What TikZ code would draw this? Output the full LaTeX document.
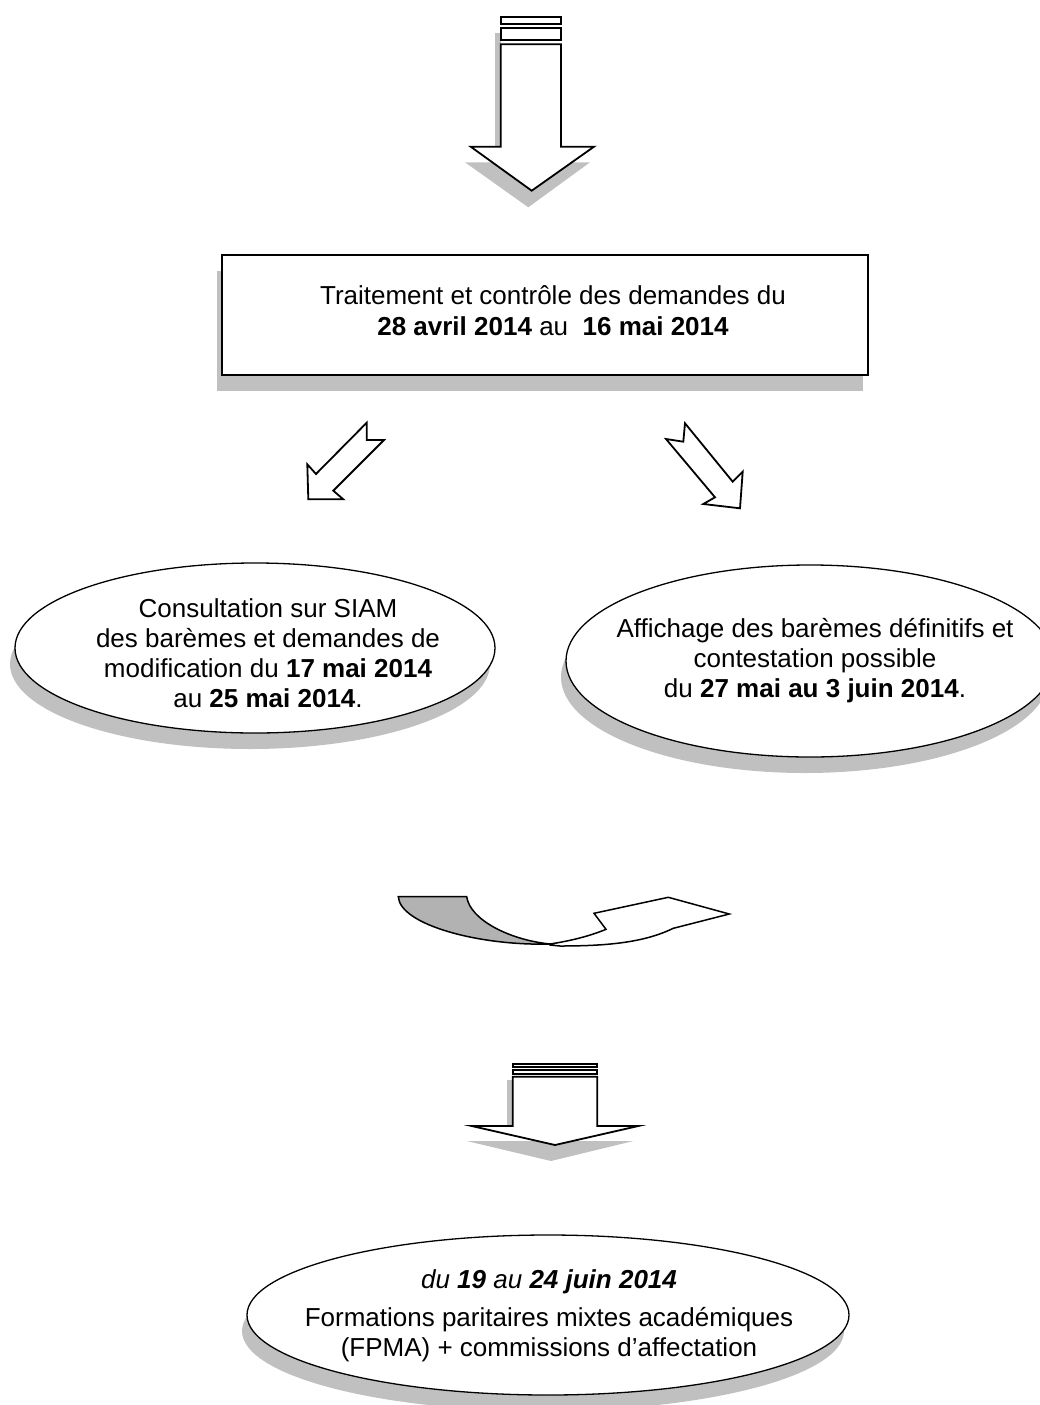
\documentclass[tikz,border=0pt]{standalone}
\usepackage{fontspec}
\setmainfont{Liberation Sans}
\usetikzlibrary{shapes.geometric}
\definecolor{shadowgrey}{RGB}{192,192,192}
\definecolor{curlgrey}{RGB}{178,178,178}
\tikzset{
  shadowfill/.style={fill=shadowgrey, draw=none},
  blockarrow/.style={draw=black, fill=white, line width=1.8pt, line join=miter},
  bubble/.style={ellipse, draw=black, fill=white, line width=1.3pt, inner sep=0pt},
  txt/.style={align=center, inner sep=0pt, font=\fontsize{26}{30}\selectfont},
}
\begin{document}
\begin{tikzpicture}[x=1pt,y=-1pt]
\useasboundingbox (0,0) rectangle (1040,1405);

% ---------- top arrow ----------
\fill[shadowfill] (494.5,33) rectangle (501,146.7);
\fill[shadowfill] (465,162.3) -- (590,162.3) -- (528.3,207.3) -- cycle;
\draw[blockarrow] (500.7,17.3) rectangle (561,24);
\draw[blockarrow] (500.7,28.3) rectangle (561,40);
\draw[blockarrow] (500.7,44.3) -- (561,44.3) -- (561,146.7) -- (594,146.7)
  -- (531.7,190.7) -- (470.7,146.7) -- (500.7,146.7) -- cycle;

% ---------- box ----------
\fill[shadowfill] (217,271) rectangle (863,391);
\node[draw=black, fill=white, line width=1.6pt, minimum width=646pt,
  minimum height=120pt, inner sep=0pt] (box) at (545,315) {};
\node[txt, font=\fontsize{26}{31}\selectfont] (boxtext) at (553,311)
  {Traitement et contrôle des demandes du\\
   \textbf{28 avril 2014} au \ \textbf{16 mai 2014}};

% ---------- diagonal arrows ----------
\draw[blockarrow] (366.7,422.7) -- (366.7,440) -- (384,440) -- (333.3,490.7)
  -- (343.3,499.3) -- (308.3,499.3) -- (307.3,464.3) -- (316,474) -- cycle;
\draw[blockarrow] (685,423.3) -- (683.3,441.7) -- (666,439) -- (715,497.3)
  -- (703.3,504) -- (740,508.3) -- (742.7,471.7) -- (732.7,481.7) -- cycle;

% ---------- left ellipse ----------
\fill[shadowfill] (250,664) ellipse [x radius=240pt, y radius=85pt];
\node[bubble, minimum width=480pt, minimum height=170pt] (consult) at (255,648) {};
\node[txt] (consulttext) at (268,653)
  {Consultation sur SIAM\\
   des barèmes et demandes de\\
   modification du \textbf{17 mai 2014}\\
   au \textbf{25 mai 2014}.};

% ---------- right ellipse ----------
\fill[shadowfill] (805,677) ellipse [x radius=244pt, y radius=96pt];
\node[bubble, minimum width=488pt, minimum height=192pt] (affich) at (810,661) {};
\node[txt] (affichtext) at (815,661)
  {Affichage des barèmes définitifs et\\
   contestation possible\\
   du \textbf{27 mai au 3 juin 2014}.};

% ---------- curved arrow ----------
\draw[line width=1.5pt, fill=white, line join=miter] (550,944)
  .. controls (570,941) and (590,936) .. (606,929.3)
  -- (594,913.3) -- (668.3,897.3) -- (729.3,914) -- (673.3,928.3)
  .. controls (645,942) and (610,946) .. (560,946) -- (550,945) -- cycle;
\draw[line width=1.5pt, fill=curlgrey] (398.3,896.7) -- (466.7,896.7)
  .. controls (470,920) and (510,940) .. (550,944)
  .. controls (480,946) and (400,925) .. cycle;

% ---------- bottom arrow ----------
\fill[shadowfill] (507.3,1080) rectangle (513,1126);
\fill[shadowfill] (466.7,1141) -- (633.3,1141) -- (551,1161) -- cycle;
\draw[blockarrow] (512.7,1064) rectangle (597.3,1066.7);
\draw[blockarrow] (512.7,1070) rectangle (597.3,1074);
\draw[blockarrow] (512.7,1076.7) -- (597.3,1076.7) -- (597.3,1126) -- (638.3,1126)
  -- (555,1145) -- (471.7,1126) -- (512.7,1126) -- cycle;

% ---------- bottom ellipse ----------
\fill[shadowfill] (543,1331) ellipse [x radius=301pt, y radius=80pt];
\node[bubble, minimum width=602pt, minimum height=160pt] (fpma) at (548,1315) {};
\node[txt] (fpmatext) at (549,1316)
  {\textit{du \textbf{19} au \textbf{24 juin 2014}}\\[8pt]
   Formations paritaires mixtes académiques\\
   (FPMA) + commissions d’affectation};
\end{tikzpicture}
\end{document}
